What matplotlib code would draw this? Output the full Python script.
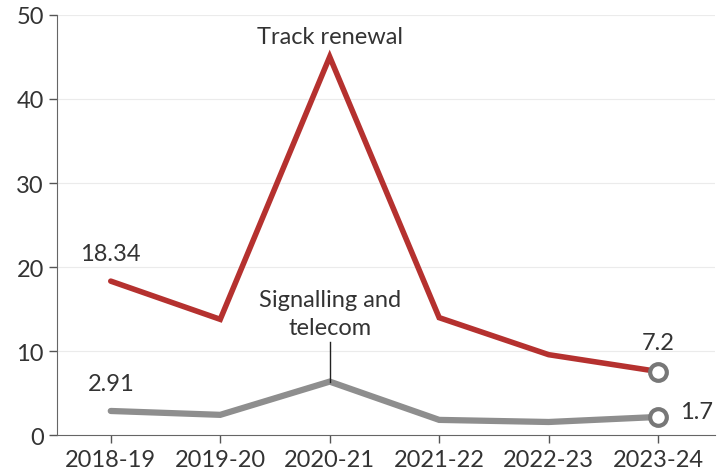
import matplotlib.pyplot as plt

plt.rcParams['font.family'] = ['Lato', 'DejaVu Sans']

years = ['2018-19', '2019-20', '2020-21', '2021-22', '2022-23', '2023-24']
track = [18.34, 13.8, 45.0, 14.0, 9.6, 7.6]
signal = [2.91, 2.45, 6.4, 1.85, 1.6, 2.2]
track_labels = ['18.34', '7.2']
signal_labels = ['2.91', '1.7']

x = list(range(len(years)))
red = '#b5312f'
grey = '#8e8e8e'
txt = '#333333'
fs = 17

fig = plt.figure(figsize=(7.23, 4.77), dpi=100)
ax = fig.add_axes([0.079, 0.085, 0.91, 0.882])

for v in [10, 20, 30, 40, 50]:
    ax.axhline(v, color='#ebebeb', lw=0.8, zorder=0)

ax.plot(x, track, color=red, lw=4, solid_capstyle='round', solid_joinstyle='miter', zorder=3)
ax.plot(x, signal, color=grey, lw=4.5, solid_capstyle='round', solid_joinstyle='miter', zorder=3)
ax.plot(x[-1], track[-1], 'o', ms=12, mfc='white', mec='#777777', mew=3, zorder=4)
ax.plot(x[-1], signal[-1], 'o', ms=12, mfc='white', mec='#777777', mew=3, zorder=4)

ax.set_xlim(-0.49, 5.52)
ax.set_ylim(0, 50)
ax.set_xticks(x)
ax.set_xticklabels(years)
ax.set_yticks([0, 10, 20, 30, 40, 50])
ax.tick_params(axis='both', labelsize=fs, colors='#555555', labelcolor=txt, length=6, width=1)
for s in ['top', 'right']:
    ax.spines[s].set_visible(False)
ax.spines['left'].set_color('#666666')
ax.spines['bottom'].set_color('#666666')

ax.text(0, track[0] + 2.0, track_labels[0], ha='center', va='bottom', fontsize=fs, color=txt)
ax.text(0, signal[0] + 2.0, signal_labels[0], ha='center', va='bottom', fontsize=fs, color=txt)
ax.text(5, track[-1] + 2.2, track_labels[1], ha='center', va='bottom', fontsize=fs, color=txt)
ax.text(5.2, signal[-1] + 0.6, signal_labels[1], ha='left', va='center', fontsize=fs, color=txt)
ax.text(2, 46.2, 'Track renewal', ha='center', va='bottom', fontsize=fs, color=txt)
ax.text(2, 11.6, 'Signalling and\ntelecom', ha='center', va='bottom', fontsize=fs, color=txt, linespacing=1.4)
ax.plot([2, 2], [signal[2], 11.1], color='#222222', lw=1, zorder=5)

fig.savefig('out.png', dpi=100)
